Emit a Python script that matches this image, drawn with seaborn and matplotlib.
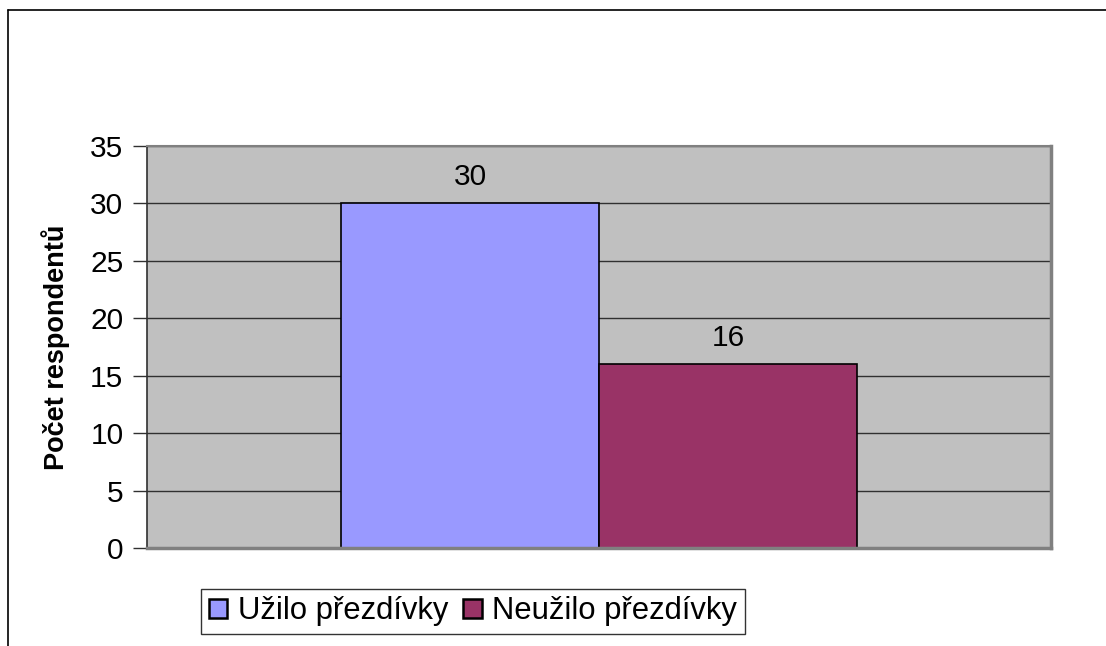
import matplotlib
matplotlib.use("Agg")
import matplotlib.pyplot as plt
import seaborn as sns
import pandas as pd
from matplotlib.patches import Rectangle
from matplotlib.lines import Line2D

series = ["Užilo přezdívky", "Neužilo přezdívky"]
values = [30, 16]
colors = ["#9999FF", "#993366"]
yticks = [0, 5, 10, 15, 20, 25, 30, 35]
ylabel = "Počet respondentů"

df = pd.DataFrame({"cat": ["" for _ in series], "series": series, "value": values})

sns.set_theme(style="white")
plt.rcParams['font.family'] = ['Liberation Sans', 'DejaVu Sans']
plt.rcParams['text.color'] = 'black'
plt.rcParams['ytick.color'] = 'black'
plt.rcParams['axes.labelcolor'] = 'black'

fig = plt.figure(figsize=(11.06, 6.46), dpi=100)
W, H = 1106, 646
ax = fig.add_axes([147 / W, 1 - 548 / H, (1051 - 147) / W, (548 - 146) / H])

sns.barplot(data=df, x="cat", y="value", hue="series", palette=colors,
            width=0.571, ax=ax, edgecolor="black", linewidth=1.2, saturation=1,
            legend=False)

ax.set_facecolor("#C0C0C0")
ax.set_xlim(-0.5, 0.5)
ax.set_ylim(0, 35)
ax.set_yticks(yticks)
ax.set_yticklabels([str(t) for t in yticks], fontsize=21.5, color="black")
ax.set_xticks([])
ax.set_xlabel("")
ax.set_ylabel(ylabel, fontsize=19.5, fontweight="bold", color="black")
ax.yaxis.set_label_coords((70 - 147) / (1051 - 147), 0.5)
ax.yaxis.grid(True, color="#303030", linewidth=1)
ax.set_axisbelow(True)
ax.tick_params(axis="y", which="both", left=True, length=10, width=1, color="#303030", pad=7)
ax.spines["left"].set_color("#303030")
ax.spines["left"].set_linewidth(1.2)
for s in ["right", "bottom"]:
    ax.spines[s].set_color("#808080")
    ax.spines[s].set_linewidth(2.5)
ax.spines["top"].set_color("#808080")
ax.spines["top"].set_linewidth(1.5)

for cont in ax.containers:
    ax.bar_label(cont, fmt="%d", padding=9, fontsize=21.5, color="black")

handles = [Rectangle((0, 0), 1, 1, facecolor=c, edgecolor="black", linewidth=1.8) for c in colors]
leg = fig.legend(handles, series, loc="lower left",
                 bbox_to_anchor=(201 / W, 1 - 634 / H), ncol=2, fontsize=22.3,
                 frameon=True, fancybox=False, edgecolor="black",
                 handlelength=0.6, handleheight=0.6, handletextpad=0.33,
                 columnspacing=0.5, borderpad=0.25, borderaxespad=0)
leg.get_frame().set_linewidth(1)

# outer chart border (top and left visible)
fig.add_artist(Line2D([8 / W, 8 / W], [0, 1 - 10 / H], color="black", linewidth=1.2))
fig.add_artist(Line2D([8 / W, 1], [1 - 10 / H, 1 - 10 / H], color="black", linewidth=1.2))

fig.savefig("out.png", dpi=100)
